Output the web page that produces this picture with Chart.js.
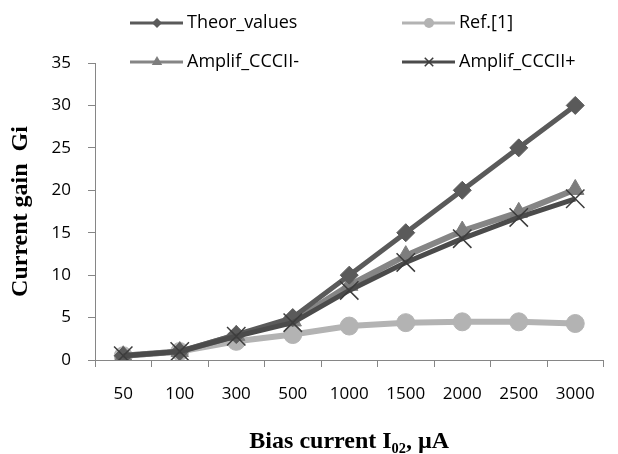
<!DOCTYPE html>
<html>
<head>
<meta charset="utf-8">
<script src="https://cdn.jsdelivr.net/npm/chart.js@4"></script>
<style>
  html, body { margin: 0; padding: 0; background: #fff; }
  #wrap { width: 618px; height: 454px; }
</style>
</head>
<body>
<div id="wrap"><canvas id="myChart" width="618" height="454"></canvas></div>
<script>
// values
var categories = ['50', '100', '300', '500', '1000', '1500', '2000', '2500', '3000'];
var theorValues = [0.5, 1, 3, 5, 10, 15, 20, 25, 30];
var refValues = [0.5, 1, 2.2, 3, 4, 4.4, 4.5, 4.5, 4.3];
var amplifMinus = [0.5, 1, 2.9, 4.6, 8.8, 12.3, 15.2, 17.4, 20.1];
var amplifPlus = [0.5, 1, 2.8, 4.4, 8.2, 11.5, 14.3, 16.8, 19];
var seriesNames = ['Theor_values', 'Ref.[1]', 'Amplif_CCCII-', 'Amplif_CCCII+'];
var yMin = 0, yMax = 35, yStep = 5;

var axisColor = '#868686';

function drawMarker(ctx, style, x, y, r, fill, stroke, bw) {
    ctx.save();
    ctx.fillStyle = fill;
    ctx.strokeStyle = stroke;
    ctx.lineWidth = bw;
    ctx.beginPath();
    if (style === 'rectRot') {
        ctx.moveTo(x, y - r); ctx.lineTo(x + r, y); ctx.lineTo(x, y + r); ctx.lineTo(x - r, y);
        ctx.closePath(); ctx.fill();
    } else if (style === 'circle') {
        ctx.arc(x, y, r, 0, Math.PI * 2); ctx.fill();
    } else if (style === 'triangle') {
        ctx.moveTo(x, y - r); ctx.lineTo(x + r * 0.87, y + r * 0.5); ctx.lineTo(x - r * 0.87, y + r * 0.5);
        ctx.closePath(); ctx.fill();
    } else if (style === 'crossRot') {
        var d = r * 0.707;
        ctx.moveTo(x - d, y - d); ctx.lineTo(x + d, y + d);
        ctx.moveTo(x + d, y - d); ctx.lineTo(x - d, y + d);
        ctx.stroke();
    }
    ctx.restore();
}

// legend drawn as 2 x 2 grid like the original
var legendGrid = {
    id: 'legendGrid',
    afterDraw: function(chart) {
        var ctx = chart.ctx;
        var colX = [130, 402];
        var rowY = [23, 62];
        var sizes = [5, 5, 6, 6];
        chart.data.datasets.forEach(function(ds, i) {
            var x = colX[i % 2], y = rowY[Math.floor(i / 2)];
            ctx.save();
            ctx.strokeStyle = ds.borderColor;
            ctx.lineWidth = 3;
            ctx.beginPath();
            ctx.moveTo(x, y); ctx.lineTo(x + 53, y);
            ctx.stroke();
            ctx.restore();
            drawMarker(ctx, ds.pointStyle, x + 27, y, sizes[i], ds.pointBackgroundColor, ds.pointBorderColor, 1.5);
            ctx.save();
            ctx.fillStyle = '#000';
            ctx.font = '18px "Open Sans"';
            ctx.textBaseline = 'middle';
            ctx.fillText(ds.label, x + 57, y);
            ctx.restore();
        });
    }
};

$ = null;
var ctx = document.getElementById('myChart');
var chartGain = new Chart(ctx, {
    type: 'line',
    data: {
        labels: categories,
        datasets: [
            {
                label: seriesNames[0], data: theorValues, order: 2,
                borderColor: '#5a5a5a', borderWidth: 5,
                pointStyle: 'rectRot', pointRadius: 9,
                pointBackgroundColor: '#5a5a5a', pointBorderColor: '#5a5a5a', pointBorderWidth: 1
            },
            {
                label: seriesNames[1], data: refValues, order: 4,
                borderColor: '#b3b3b3', borderWidth: 6,
                pointStyle: 'circle', pointRadius: 9,
                pointBackgroundColor: '#b3b3b3', pointBorderColor: '#b3b3b3', pointBorderWidth: 1
            },
            {
                label: seriesNames[2], data: amplifMinus, order: 3,
                borderColor: '#858585', borderWidth: 6,
                pointStyle: 'triangle', pointRadius: 10,
                pointBackgroundColor: '#7d7d7d', pointBorderColor: '#7d7d7d', pointBorderWidth: 1
            },
            {
                label: seriesNames[3], data: amplifPlus, order: 1,
                borderColor: '#4b4b4b', borderWidth: 5,
                pointStyle: 'crossRot', pointRadius: 13,
                pointBackgroundColor: '#3c3c3c', pointBorderColor: '#3c3c3c', pointBorderWidth: 1.5
            }
        ]
    },
    options: {
        responsive: false,
        animation: false,
        layout: { padding: { top: 63, right: 0, left: 0, bottom: 0 } },
        plugins: {
            legend: { display: false },
            tooltip: { enabled: false }
        },
        scales: {
            x: {
                offset: true,
                grid: { offset: true, drawOnChartArea: false, color: axisColor, tickLength: 7 },
                border: { color: axisColor, width: 1 },
                ticks: { color: '#000', font: { family: 'Open Sans', size: 17 }, padding: 17, maxRotation: 0 },
                title: {
                    display: true, text: 'Bias current I₀₂, µA', color: '#000',
                    font: { family: 'Liberation Serif', size: 24, weight: 'bold', lineHeight: 1 },
                    padding: { top: 0, bottom: 0 }
                },
                afterFit: function(scale) { scale.height = 94; }
            },
            y: {
                min: yMin, max: yMax,
                grid: { drawOnChartArea: false, color: axisColor, tickLength: 7 },
                border: { color: axisColor, width: 1 },
                ticks: { stepSize: yStep, color: '#000', font: { family: 'Open Sans', size: 17 }, padding: 17 },
                title: {
                    display: true, text: 'Current gain  Gi', color: '#000',
                    font: { family: 'Liberation Serif', size: 24, weight: 'bold', lineHeight: 1 },
                    padding: { top: 9, bottom: 0 }
                },
                afterFit: function(scale) { scale.width = 95; }
            }
        }
    },
    plugins: [legendGrid]
});
</script>
</body>
</html>
